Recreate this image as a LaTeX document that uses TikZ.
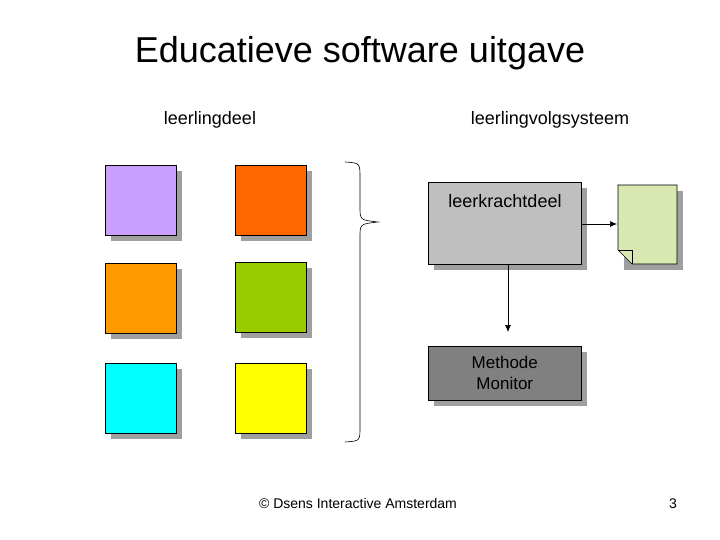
\documentclass[tikz,border=0pt]{standalone}
\usepackage{fontspec}
\setmainfont{Liberation Sans}
\usetikzlibrary{arrows.meta}
\begin{document}
\begin{tikzpicture}[x=1pt,y=-1pt,
 sq/.style={draw=black,line width=0.6pt},
 shad/.style={fill=gray!75,draw=none},
 arr/.style={-{Latex[length=7pt,width=6pt]},line width=0.6pt},
 lbl/.style={font=\fontsize{18}{20}\selectfont,inner sep=0pt}]
\useasboundingbox[fill=white] (0,0) rectangle (720,540);
\node[font=\fontsize{36}{40}\selectfont,inner sep=0pt] (title) at (360,53) {Educatieve software uitgave};
\node[lbl] (l1) at (210,120) {leerlingdeel};
\node[lbl] (l2) at (550,120) {leerlingvolgsysteem};
\foreach \x/\y/\c [count=\i] in {105/165/C9A0FF,235/165/FF6600,105/263/FF9900,235/262/99CC00,105/363/00FFFF,235/363/FFFF00}{
 \definecolor{c\i}{HTML}{\c}
 \fill[shad] (\x+6,\y+6) rectangle (\x+77,\y+76);
 \draw[sq,fill=c\i] (\x,\y) rectangle (\x+71,\y+70);
}
\draw[line width=0.6pt] (345,162) .. controls (360,163) .. (360,178) -- (360,207) .. controls (360,220) .. (378,222)
 .. controls (360,224) .. (360,237) -- (360,427) .. controls (360,441) .. (345,442);
\fill[shad] (434,188) rectangle (587,270);
\node[sq,fill=gray!50,minimum width=153pt,minimum height=82pt,anchor=north west,inner sep=0pt] (lk) at (428,182) {};
\node[lbl] at (505,201) {leerkrachtdeel};
\fill[shad] (624,191) rectangle (683,270);
\draw[sq,fill={rgb,255:red,216;green,232;blue,176}] (618,185) -- (677,185) -- (677,264) -- (632,264) -- (618,250) -- cycle;
\draw[sq] (618,250) -- (632,250) -- (632,264);
\coordinate (doc) at (617,224);
\draw[arr] (lk.east|-doc) -- (doc);
\fill[shad] (434,352) rectangle (587,406);
\node[sq,fill=gray,minimum width=153pt,minimum height=54pt,anchor=north west,inner sep=0pt,align=center,font=\fontsize{17}{21}\selectfont] (mm) at (428,346) {Methode\\Monitor};
\coordinate (mt) at (508,332);
\draw[arr] (lk.south-|mt) -- (mt);
\node[font=\fontsize{14}{16}\selectfont,inner sep=0pt] (foot) at (358,503) {© Dsens Interactive Amsterdam};
\node[font=\fontsize{14}{16}\selectfont,inner sep=0pt,anchor=base] (pg) at (673,508) {3};
\end{tikzpicture}
\end{document}
